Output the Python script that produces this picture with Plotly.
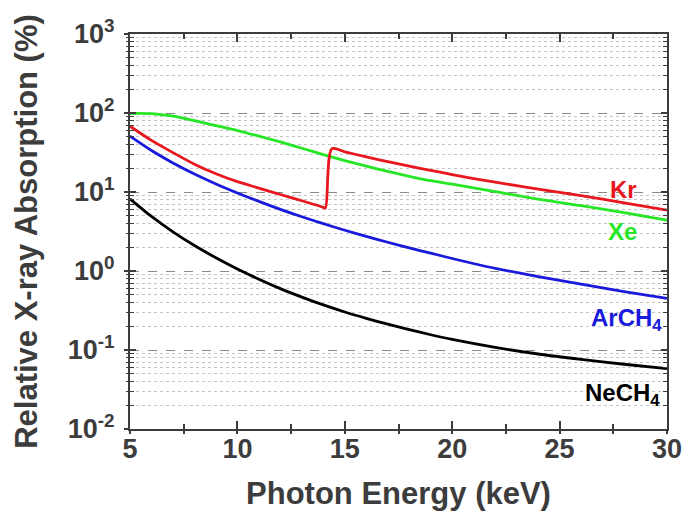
import math
import plotly.graph_objects as go

# ---- data ----
energy_ne = [5, 6, 7, 8, 9, 10, 11, 12, 13, 14, 15, 16, 17, 18, 19, 20, 22, 24, 26, 28, 30]
nech4 = [8.2, 4.9, 3.13, 2.10, 1.47, 1.06, 0.787, 0.598, 0.467, 0.372, 0.303, 0.252, 0.212,
         0.181, 0.156, 0.136, 0.108, 0.089, 0.076, 0.066, 0.058]

energy_ar = [5, 6, 7, 8, 9, 10, 11, 12, 13, 14, 15, 16, 17, 18, 19, 20, 22, 24, 26, 28, 30]
arch4 = [51, 33.5, 23.3, 16.9, 12.66, 9.73, 7.6, 6.03, 4.86, 3.97, 3.28, 2.74, 2.31, 1.96,
         1.68, 1.44, 1.08, 0.85, 0.68, 0.55, 0.45]

energy_xe = [5, 6, 7, 8, 9, 10, 11, 12, 13, 14, 15, 16, 17, 18, 19, 20, 22, 24, 26, 28, 30]
xe = [98.5, 98, 91, 80, 69, 60, 51, 43, 35.8, 29.8, 25, 21.2, 18.2, 15.8, 13.9,
      12.6, 10.1, 8.1, 6.7, 5.5, 4.4]

energy_kr = [5, 6, 7, 8, 9, 10, 11, 12, 13, 14, 14.1, 14.4, 15, 16, 17, 18, 19, 20, 21, 22,
             24, 26, 28, 30]
kr = [68, 45, 31.5, 22.5, 17, 13.5, 11.2, 9.3, 7.75, 6.4, 6.25, 35.3, 32.3, 27.8, 24.2, 21.2,
      18.8, 16.6, 14.8, 13.3, 10.9, 9.0, 7.3, 5.9]

y_tickvals = [0.01, 0.1, 1, 10, 100, 1000]
y_ticktext = ["10<sup>-2</sup>", "10<sup>-1</sup>", "10<sup>0</sup>",
              "10<sup>1</sup>", "10<sup>2</sup>", "10<sup>3</sup>"]
y_minor = [m * d for d in [0.01, 0.1, 1, 10, 100] for m in range(2, 10)]
x_tickvals = [5, 10, 15, 20, 25, 30]
x_minor = [7.5, 12.5, 17.5, 22.5, 27.5]

labels = [
    ("Kr", 28.7, 10.8, "#e8161e"),
    ("Xe", 28.7, 3.16, "#26e626"),
    ("ArCH<sub>4</sub>", 29.85, 0.245, "#1a1adc"),
    ("NeCH<sub>4</sub>", 29.75, 0.0275, "#000000"),
]

TXT = "#3c3c3c"
FONT = "Liberation Sans"

fig = go.Figure()
series = [
    (energy_ne, nech4, "#000000", "NeCH4"),
    (energy_ar, arch4, "#1a1adc", "ArCH4"),
    (energy_xe, xe, "#26e626", "Xe"),
    (energy_kr, kr, "#e8161e", "Kr"),
]
for xs, ys, col, name in series:
    fig.add_trace(go.Scatter(x=xs, y=ys, mode="lines", name=name,
                             line=dict(color=col, width=2.8, shape="spline", smoothing=0.8)))

# invisible trace to anchor overlay axes
fig.add_trace(go.Scatter(x=[5], y=[1], xaxis="x2", yaxis="y2", mode="markers",
                         marker=dict(opacity=0), showlegend=False, hoverinfo="skip"))

for text, xv, yv, col in labels:
    fig.add_annotation(x=xv, y=math.log10(yv), xref="x", yref="y", text=text,
                       showarrow=False, xanchor="right", yanchor="middle",
                       font=dict(family=FONT, size=24, color=col, weight="bold"))

fig.update_layout(
    width=683, height=518,
    margin=dict(l=130, r=16, t=34, b=89, autoexpand=False),
    paper_bgcolor="white", plot_bgcolor="white",
    showlegend=False,
    xaxis=dict(
        range=[5, 30], tickvals=x_tickvals, showticklabels=False, automargin=False,
        ticks="inside", ticklen=8, tickwidth=1.5, tickcolor=TXT,
        minor=dict(tickvals=x_minor, ticks="inside", ticklen=5, tickwidth=1.5, tickcolor=TXT),
        showline=True, linecolor=TXT, linewidth=1.8, mirror="allticks",
        showgrid=False, zeroline=False,
    ),
    xaxis2=dict(
        range=[5, 30], overlaying="x", side="bottom", anchor="y2", automargin=False,
        tickvals=x_tickvals, ticktext=[str(v) for v in x_tickvals],
        ticks="outside", ticklen=4, tickwidth=1.5, tickcolor=TXT,
        minor=dict(tickvals=x_minor, ticks="outside", ticklen=4, tickwidth=1.5, tickcolor=TXT),
        tickfont=dict(family=FONT, size=27, color=TXT, weight="bold"),
        ticklabelstandoff=-8,
        showline=False, showgrid=False, zeroline=False,
        title=dict(text="Photon Energy (keV)", standoff=18,
                   font=dict(family=FONT, size=31, color=TXT, weight="bold")),
    ),
    yaxis=dict(
        type="log", range=[-2, 3], tickvals=y_tickvals, showticklabels=False, automargin=False,
        ticks="inside", ticklen=6, tickwidth=1.5, tickcolor=TXT,
        minor=dict(tickvals=y_minor, ticks="inside", ticklen=4, tickwidth=1.2, tickcolor=TXT,
                   showgrid=True, gridcolor="#c4c4c4", griddash="dot", gridwidth=1),
        showgrid=True, gridcolor="#8a8a8a", griddash="dash", gridwidth=1,
        showline=True, linecolor=TXT, linewidth=1.8, mirror="allticks",
        zeroline=False,
    ),
    yaxis2=dict(
        type="log", range=[-2, 3], overlaying="y", side="left", anchor="x2", automargin=False,
        tickvals=y_tickvals, ticktext=y_ticktext,
        ticks="outside", ticklen=5, tickwidth=1.5, tickcolor=TXT,
        minor=dict(tickvals=y_minor, ticks="outside", ticklen=3, tickwidth=1.2, tickcolor=TXT),
        tickfont=dict(family=FONT, size=27, color=TXT, weight="bold"),
        ticklabelstandoff=4,
        showline=False, showgrid=False, zeroline=False,
        title=dict(text="Relative X-ray Absorption (%)", standoff=20,
                   font=dict(family=FONT, size=31, color=TXT, weight="bold")),
    ),
)

fig.write_html("out.html", config={"displayModeBar": False},
               post_script="document.body.style.margin='0';document.body.style.overflow='hidden';")
